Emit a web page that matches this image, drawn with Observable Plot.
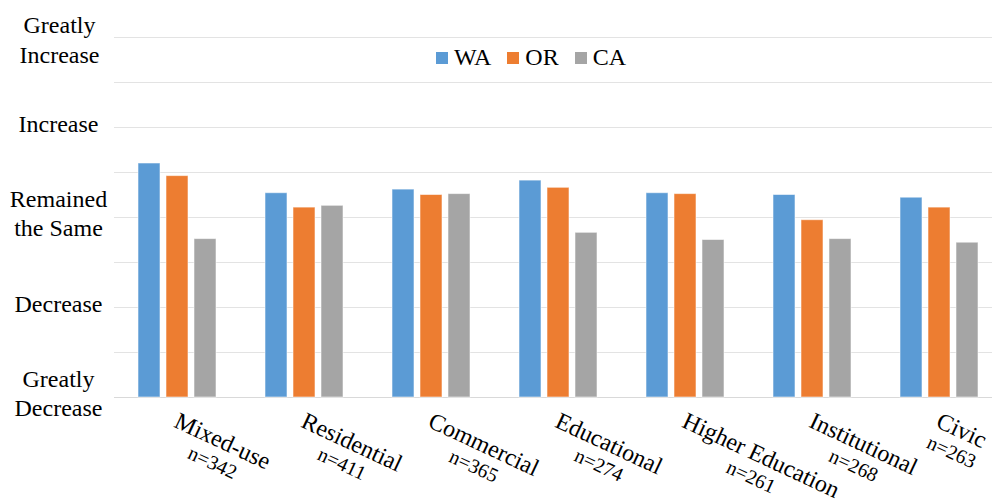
<!DOCTYPE html>
<html>
<head>
<meta charset="utf-8">
<script src="https://cdn.jsdelivr.net/npm/d3@7"></script>
<script src="https://cdn.jsdelivr.net/npm/@observablehq/plot@0.6"></script>
<style>
  body { margin: 0; background: #fff; overflow: hidden; }
  #chart { position: relative; width: 992px; height: 500px; }
  .legend {
    position: absolute; top: 45px; left: 436px;
    display: flex; align-items: flex-start;
    font-size: 24px; line-height: 24px; color: #000;
  }
  .legend .item { display: flex; align-items: flex-start; margin-right: 16px; }
  .legend .swatch { width: 12px; height: 12px; margin-top: 7px; margin-right: 6px; }
</style>
</head>
<body>
<div id="chart"></div>
<script>
// Perceived change in demand by building type, average response per state
const categories = ["Mixed-use", "Residential", "Commercial", "Educational", "Higher Education", "Institutional", "Civic"];
const sampleSizes = ["n=342", "n=411", "n=365", "n=274", "n=261", "n=268", "n=263"];
const states = ["WA", "OR", "CA"];
const stateColors = ["#5B9BD5", "#ED7D31", "#A5A5A5"];
const waValues = [3.60, 3.27, 3.31, 3.41, 3.27, 3.25, 3.22];
const orValues = [3.46, 3.11, 3.25, 3.33, 3.26, 2.97, 3.11];
const caValues = [2.76, 3.13, 3.26, 2.83, 2.75, 2.76, 2.72];
const scaleTicks = [1, 2, 3, 4, 5];
const scaleLabels = ["Greatly\nDecrease", "Decrease", "Remained\nthe Same", "Increase", "Greatly\nIncrease"];
const gridValues = [1, 1.5, 2, 2.5, 3, 3.5, 4, 4.5, 5];

const FONT = "'Liberation Serif', Tinos, 'Times New Roman', Times, serif";
document.getElementById("chart").style.fontFamily = FONT;

const seriesByState = [waValues, orValues, caValues];
const rows = categories.flatMap((category, i) =>
  states.map((state, j) => ({category, state, value: seriesByState[j][i]}))
);
const scaleRows = scaleTicks.map((tick, i) => ({tick, label: scaleLabels[i]}));

// Category labels: rotated two-line blocks whose top-left corner sits under each group
const angle = 25;
const theta = angle * Math.PI / 180;
const ctx = document.createElement("canvas").getContext("2d");
ctx.font = `24px ${FONT}`;
const rotated = (u, v) => [u * Math.cos(theta) - v * Math.sin(theta), u * Math.sin(theta) + v * Math.cos(theta)];
const originX = 2, originY = 13.5;
const categoryLabelMarks = categories.flatMap((category, i) => {
  const w = ctx.measureText(category).width;
  const [dx1, dy1] = rotated(w / 2, 0);
  const [dx2, dy2] = rotated(w / 2, 25.5);
  return [
    Plot.text([category], {
      fx: d => d, text: d => d, frameAnchor: "bottom", rotate: angle,
      textAnchor: "middle", lineAnchor: "top", fontSize: 24, fill: "#000",
      fontFamily: FONT, dx: originX + dx1, dy: originY + dy1
    }),
    Plot.text([sampleSizes[i]], {
      fx: () => category, text: d => d, frameAnchor: "bottom", rotate: angle,
      textAnchor: "middle", lineAnchor: "top", fontSize: 20, fill: "#000",
      fontFamily: FONT, dx: originX + dx2, dy: originY + dy2
    })
  ];
});

const plot = Plot.plot({
  width: 992,
  height: 500,
  marginLeft: 113,
  marginRight: -12,
  marginTop: 37,
  marginBottom: 103,
  fx: {domain: categories, axis: null, padding: 0},
  x: {domain: states, axis: null, paddingInner: 0.212, paddingOuter: 0.855},
  y: {domain: [1, 5], axis: null},
  color: {domain: states, range: stateColors},
  style: {fontFamily: FONT, background: "white", overflow: "visible"},
  marks: [
    Plot.ruleY(gridValues.filter(v => v > 1), {stroke: "#e3e3e3", strokeWidth: 1}),
    Plot.ruleY([1], {stroke: "#d9d9d9", strokeWidth: 1}),
    Plot.barY(rows, {
      fx: "category", x: "state", y1: 1, y2: "value", fill: "state",
      stroke: "white", strokeOpacity: 0.55, strokeWidth: 1
    }),
    Plot.text(scaleRows.filter(d => d.tick < 5), {
      y: "tick", text: "label", frameAnchor: "left", dx: -56, dy: -5,
      textAnchor: "middle", lineAnchor: "middle", lineHeight: 1.18,
      fontSize: 24, fill: "#000", fontFamily: FONT, facetAnchor: "left"
    }),
    Plot.text(scaleRows.filter(d => d.tick === 5), {
      y: "tick", text: "label", frameAnchor: "left", dx: -55, dy: 1,
      textAnchor: "middle", lineAnchor: "middle", lineHeight: 1.22,
      fontSize: 24, fill: "#000", fontFamily: FONT, facetAnchor: "left"
    }),
    ...categoryLabelMarks
  ]
});

const chart = document.getElementById("chart");
chart.appendChild(plot);

// Series legend inside the top of the plot area
const legend = d3.select(chart).append("div").attr("class", "legend");
const items = legend.selectAll(".item").data(states).join("div").attr("class", "item");
items.append("div").attr("class", "swatch").style("background", (d, i) => stateColors[i]);
items.append("span").text(d => d);
</script>
</body>
</html>
